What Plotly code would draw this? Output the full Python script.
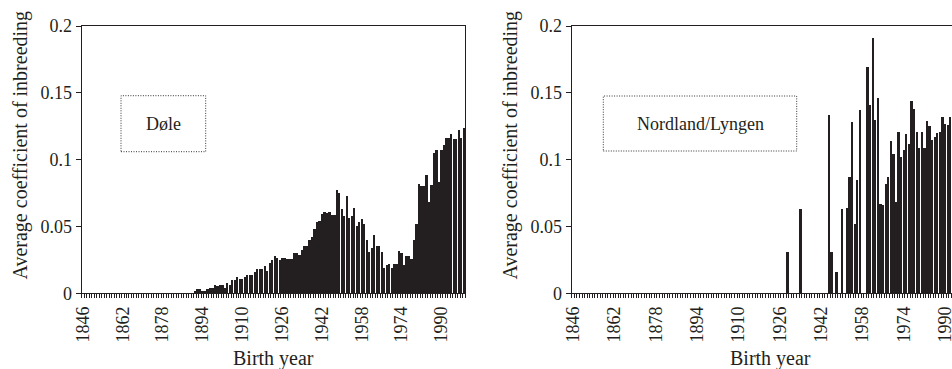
import plotly.graph_objects as go

# ---------------- data ----------------
tick_years = [1846, 1862, 1878, 1894, 1910, 1926, 1942, 1958, 1974, 1990]
y_ticks = [0, 0.05, 0.1, 0.15, 0.2]

# Døle: yearly averages, 1891-1999 (earlier years are 0)
dole_start = 1891
dole_values = [
    0.002, 0.0032, 0.0032, 0.002, 0.002, 0.0032, 0.004, 0.0042, 0.0065, 0.0055,   # 1891-1900
    0.0065, 0.0065, 0.0042, 0.0075, 0.0065, 0.010, 0.010, 0.012, 0.0107, 0.0107,  # 1901-1910
    0.012, 0.014, 0.014, 0.014, 0.016, 0.0185, 0.0185, 0.018, 0.0205, 0.017,      # 1911-1920
    0.0224, 0.025, 0.028, 0.0264, 0.025, 0.0264, 0.0264, 0.0254, 0.0254, 0.0254, # 1921-1930
    0.030, 0.030, 0.029, 0.0324, 0.0354, 0.0354, 0.040, 0.042, 0.048, 0.053,      # 1931-1940
    0.054, 0.059, 0.061, 0.060, 0.0606, 0.0586, 0.0586, 0.077, 0.075, 0.063,      # 1941-1950
    0.058, 0.073, 0.0566, 0.058, 0.064, 0.050, 0.053, 0.0556, 0.052, 0.040,       # 1951-1960
    0.031, 0.034, 0.0436, 0.0354, 0.0354, 0.031, 0.019, 0.021, 0.022, 0.019,      # 1961-1970
    0.022, 0.022, 0.032, 0.030, 0.021, 0.028, 0.028, 0.0254, 0.040, 0.052,        # 1971-1980
    0.0815, 0.080, 0.080, 0.0885, 0.068, 0.081, 0.105, 0.107, 0.0835, 0.107,      # 1981-1990
    0.111, 0.1165, 0.1165, 0.119, 0.1155, 0.1155, 0.122, 0.1165, 0.124,           # 1991-1999
]
dole_years = list(range(dole_start, dole_start + len(dole_values)))

# Nordland/Lyngen: non-zero years visible in the picture
nordland_years = [1929, 1934, 1945, 1946, 1948, 1950, 1952, 1953, 1954, 1955, 1956, 1957] + \
    list(range(1960, 1993))
nordland_values = [
    0.031, 0.0628, 0.1334, 0.0312, 0.016, 0.0628, 0.064, 0.087, 0.128, 0.052, 0.085, 0.137,
    0.169, 0.141, 0.191, 0.130, 0.146, 0.067, 0.066, 0.082, 0.087, 0.114,   # 1960-1969
    0.104, 0.068, 0.121, 0.102, 0.107, 0.119, 0.112, 0.144, 0.138, 0.121,   # 1970-1979
    0.109, 0.121, 0.109, 0.129, 0.125, 0.115, 0.117, 0.120, 0.121, 0.132,   # 1980-1989
    0.127, 0.126, 0.132,                                                    # 1990-1992
]

# ---------------- figure ----------------
W, H = 952, 369
FONT = "Liberation Serif, Times New Roman, serif"
INK = "#231f20"
BAR = "#231f20"


def px(x):
    return x / W


def py(y):
    return 1 - y / H


fig = go.Figure()
fig.add_trace(go.Bar(x=dole_years, y=dole_values, width=0.7, marker=dict(color=BAR, line=dict(width=0)),
                     xaxis="x", yaxis="y", showlegend=False, hoverinfo="skip"))
fig.add_trace(go.Bar(x=nordland_years, y=nordland_values, width=0.7, marker=dict(color=BAR, line=dict(width=0)),
                     xaxis="x2", yaxis="y2", showlegend=False, hoverinfo="skip"))

xcommon = dict(
    tickmode="array", tickvals=tick_years, ticktext=[str(t) for t in tick_years],
    tickangle=-90, ticks="outside", ticklen=5, tickcolor="rgba(0,0,0,0)",
    minor=dict(tick0=1845.5, dtick=1, ticks="outside", ticklen=4, tickcolor=INK, tickwidth=1, showgrid=False),
    showline=True, linecolor=INK, linewidth=1, mirror=True, showgrid=False, zeroline=False,
    tickfont=dict(family=FONT, size=18, color=INK), automargin=False, ticklabeloverflow="allow",
)
ycommon = dict(
    range=[0, 0.2], tickmode="array", tickvals=y_ticks, ticktext=["0", "0.05", "0.1", "0.15", "0.2"],
    ticks="outside", ticklen=5, tickcolor=INK, showline=True, linecolor=INK, linewidth=1,
    showgrid=False, zeroline=False, tickfont=dict(family=FONT, size=18, color=INK), automargin=False,
)

fig.update_layout(
    width=W, height=H, margin=dict(l=0, r=0, t=0, b=0),
    paper_bgcolor="white", plot_bgcolor="white", bargap=0,
    xaxis=dict(domain=[px(81.7), px(465)], range=[1845.5, 1999.5], anchor="y", **xcommon),
    yaxis=dict(domain=[py(293.3), py(26)], anchor="x", mirror=True, **ycommon),
    xaxis2=dict(domain=[px(571.7), 1.0], range=[1845.5, 1992.7], anchor="y2", **xcommon),
    yaxis2=dict(domain=[py(293.3), py(26)], anchor="x2", mirror=False, **ycommon),
)

ann_font = dict(family=FONT, size=18, color=INK)
title_font = dict(family=FONT, size=20, color=INK)
annotations = [
    dict(text="Døle", x=px(163.4), y=py(123.7), font=ann_font),
    dict(text="Nordland/Lyngen", x=px(700), y=py(123.5), font=ann_font),
    dict(text="Average coefficient of inbreeding", x=px(20), y=py(145.5), textangle=-90, font=title_font),
    dict(text="Average coefficient of inbreeding", x=px(510), y=py(145.5), textangle=-90, font=title_font),
    dict(text="Birth year", x=px(273.4), y=py(358), font=title_font),
    dict(text="Birth year", x=px(770.6), y=py(358), font=title_font),
]
for a in annotations:
    fig.add_annotation(xref="paper", yref="paper", showarrow=False, xanchor="center", yanchor="middle", **a)

box_line = dict(color="#333333", width=1, dash="1px,1.5px")
fig.add_shape(type="rect", xref="paper", yref="paper", x0=px(121), x1=px(205.7), y0=py(151.7), y1=py(95.7),
              line=box_line)
fig.add_shape(type="rect", xref="paper", yref="paper", x0=px(603.3), x1=px(796.7), y0=py(151), y1=py(96),
              line=box_line)

fig.write_html("out.html", config={"displayModeBar": False},
               post_script="document.body.style.margin='0';")
